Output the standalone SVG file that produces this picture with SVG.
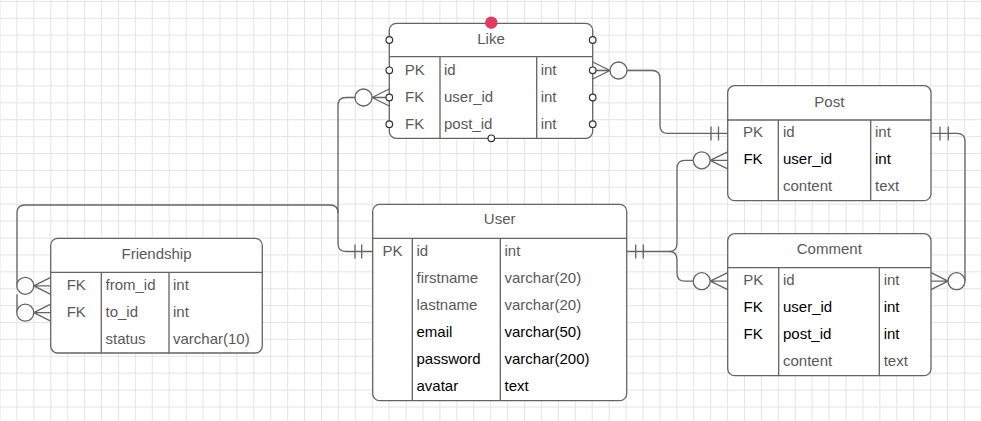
<svg xmlns="http://www.w3.org/2000/svg" width="981" height="421" viewBox="0 0 981 421">
<defs>
<pattern id="grid" width="16.92" height="16.9" patternUnits="userSpaceOnUse" x="-0.5" y="0.9">
<rect x="0" y="0" width="1" height="16.9" fill="#e4e4e4"/>
<rect x="0" y="0" width="16.92" height="1" fill="#e4e4e4"/>
</pattern>
</defs>
<style>
.tbl{fill:#fff;stroke:#646464;stroke-width:1.3}
.div{stroke:#646464;stroke-width:1.3;fill:none}
.t{font-family:"Liberation Sans",Arial,sans-serif;font-size:15px;fill:#595959}
.b{fill:#000}
.c{text-anchor:middle}
.con{fill:none;stroke:#646464;stroke-width:1.3}
.ring{fill:#fff;stroke:#646464;stroke-width:1.3}
.pt{fill:#fff;stroke:#333;stroke-width:1.2}
</style>
<rect width="981" height="421" fill="#fff"/>
<rect width="981" height="421" fill="url(#grid)"/>

<g id="connectors">
<!-- User -> Friendship from_id -->
<path class="con" d="M372.7 251.5 H346 Q338 251.5 338 243.5 V213 Q338 205 330 205 H25 Q17 205 17 213 V285.8"/>
<circle class="ring" cx="25.3" cy="285.8" r="8.5"/>
<path class="con" d="M33.8 285.8 L50.7 277.3 M33.8 285.8 H50.7 M33.8 285.8 L50.7 294.3"/>
<!-- User -> Friendship to_id (shares route above) -->
<path class="con" d="M17 294.3 V312.7"/>
<circle class="ring" cx="25.3" cy="312.7" r="8.5"/>
<path class="con" d="M33.8 312.7 L50.7 304.2 M33.8 312.7 H50.7 M33.8 312.7 L50.7 321.2"/>
<!-- User -> Like user_id (shares route below) -->
<path class="con" d="M338 213 V105.5 Q338 97.5 346 97.5 H355"/>
<circle class="ring" cx="363.5" cy="97.5" r="8.5"/>
<path class="con" d="M372 97.5 L389.3 89 M372 97.5 H389.3 M372 97.5 L389.3 106"/>
<path class="con" d="M355 244.5 V258.5 M361.7 244.5 V258.5"/>
<!-- Like id -> Post id -->
<path class="con" d="M627 70.5 H652 Q660 70.5 660 78.5 V125.4 Q660 133.4 668 133.4 H727.7"/>
<circle class="ring" cx="618.5" cy="70.5" r="8.5"/>
<path class="con" d="M610 70.5 L592.7 62 M610 70.5 H592.7 M610 70.5 L592.7 79"/>
<path class="con" d="M711 126.4 V140.4 M718.5 126.4 V140.4"/>
<!-- User -> Post user_id -->
<path class="con" d="M626.7 251.5 H669 Q677 251.5 677 243.5 V168.3 Q677 160.3 685 160.3 H693"/>
<circle class="ring" cx="701.7" cy="160.3" r="8.5"/>
<path class="con" d="M710.2 160.3 L727.7 151.8 M710.2 160.3 H727.7 M710.2 160.3 L727.7 168.8"/>
<!-- User -> Comment user_id (shares route from User) -->
<path class="con" d="M669 251.5 Q677 251.5 677 259.5 V273.2 Q677 281.2 685 281.2 H693"/>
<circle class="ring" cx="701.7" cy="281.2" r="8.5"/>
<path class="con" d="M710.2 281.2 L727.7 272.7 M710.2 281.2 H727.7 M710.2 281.2 L727.7 289.7"/>
<path class="con" d="M635.7 244.5 V258.5 M643.3 244.5 V258.5"/>
<!-- Post -> Comment post_id -->
<path class="con" d="M931 133.4 H957 Q965 133.4 965 141.4 V281.2"/>
<circle class="ring" cx="956.5" cy="281.2" r="8.5"/>
<path class="con" d="M948 281.2 L931 272.7 M948 281.2 H931 M948 281.2 L931 289.7"/>
<path class="con" d="M940 126.4 V140.4 M948.3 126.4 V140.4"/>
</g>

<g id="like">
<rect class="tbl" x="389.3" y="23.3" width="203.4" height="115" rx="7"/>
<path class="div" d="M389.3 56.7 H592.7 M440 56.7 V138.3 M536.7 56.7 V138.3"/>
<text class="t c" x="491" y="43.5">Like</text>
<text class="t c" x="414.7" y="75">PK</text><text class="t" x="444" y="75">id</text><text class="t" x="540.7" y="75">int</text>
<text class="t c" x="414.7" y="102">FK</text><text class="t" x="444" y="102">user_id</text><text class="t" x="540.7" y="102">int</text>
<text class="t c" x="414.7" y="129">FK</text><text class="t" x="444" y="129">post_id</text><text class="t" x="540.7" y="129">int</text>
<circle class="pt" cx="389.3" cy="40" r="3.3"/><circle class="pt" cx="389.3" cy="70.3" r="3.3"/><circle class="pt" cx="389.3" cy="97.5" r="3.3"/><circle class="pt" cx="389.3" cy="124.2" r="3.3"/>
<circle class="pt" cx="592.7" cy="40" r="3.3"/><circle class="pt" cx="592.7" cy="70.3" r="3.3"/><circle class="pt" cx="592.7" cy="97.5" r="3.3"/><circle class="pt" cx="592.7" cy="124.2" r="3.3"/>
<circle class="pt" cx="491.3" cy="138.3" r="3.3"/>
<circle cx="491.3" cy="22.7" r="6.2" fill="#e23b60"/>
</g>

<g id="post">
<rect class="tbl" x="727.7" y="85.7" width="203.3" height="115" rx="7"/>
<path class="div" d="M727.7 120 H931 M778.3 120 V200.7 M870.7 120 V200.7"/>
<text class="t c" x="829.3" y="106.7">Post</text>
<text class="t c" x="753" y="137">PK</text><text class="t" x="783" y="137">id</text><text class="t" x="875" y="137">int</text>
<text class="t c b" x="753" y="164.2">FK</text><text class="t b" x="783" y="164.2">user_id</text><text class="t b" x="875" y="164.2">int</text>
<text class="t" x="783" y="191">content</text><text class="t" x="875" y="191">text</text>
</g>

<g id="comment">
<rect class="tbl" x="727.7" y="233.7" width="203.3" height="142" rx="7"/>
<path class="div" d="M727.7 267.7 H931 M778.7 267.7 V375.7 M879.3 267.7 V375.7"/>
<text class="t c" x="829.3" y="254.3">Comment</text>
<text class="t c" x="753.2" y="285">PK</text><text class="t" x="783" y="285">id</text><text class="t" x="883.7" y="285">int</text>
<text class="t c b" x="753.2" y="312">FK</text><text class="t b" x="783" y="312">user_id</text><text class="t b" x="883.7" y="312">int</text>
<text class="t c b" x="753.2" y="339">FK</text><text class="t b" x="783" y="339">post_id</text><text class="t b" x="883.7" y="339">int</text>
<text class="t" x="783" y="366">content</text><text class="t" x="883.7" y="366">text</text>
</g>

<g id="user">
<rect class="tbl" x="372.7" y="204.3" width="254" height="196.4" rx="7"/>
<path class="div" d="M372.7 238.3 H626.7 M412.3 238.3 V400.7 M500.3 238.3 V400.7"/>
<text class="t c" x="499.7" y="224.3">User</text>
<text class="t c" x="392.5" y="256">PK</text><text class="t" x="416.5" y="256">id</text><text class="t" x="504.5" y="256">int</text>
<text class="t" x="416.5" y="283">firstname</text><text class="t" x="504.5" y="283">varchar(20)</text>
<text class="t" x="416.5" y="310">lastname</text><text class="t" x="504.5" y="310">varchar(20)</text>
<text class="t b" x="416.5" y="337">email</text><text class="t b" x="504.5" y="337">varchar(50)</text>
<text class="t b" x="416.5" y="364">password</text><text class="t b" x="504.5" y="364">varchar(200)</text>
<text class="t b" x="416.5" y="391">avatar</text><text class="t b" x="504.5" y="391">text</text>
</g>

<g id="friendship">
<rect class="tbl" x="50.7" y="238.3" width="211.6" height="114.7" rx="7"/>
<path class="div" d="M50.7 272.3 H262.3 M101.3 272.3 V353 M169 272.3 V353"/>
<text class="t c" x="156.5" y="258.5">Friendship</text>
<text class="t c" x="76.3" y="290">FK</text><text class="t" x="105.5" y="290">from_id</text><text class="t" x="173" y="290">int</text>
<text class="t c" x="76.3" y="316.8">FK</text><text class="t" x="105.5" y="316.8">to_id</text><text class="t" x="173" y="316.8">int</text>
<text class="t" x="105.5" y="343.5">status</text><text class="t" x="173" y="343.5">varchar(10)</text>
</g>
</svg>
